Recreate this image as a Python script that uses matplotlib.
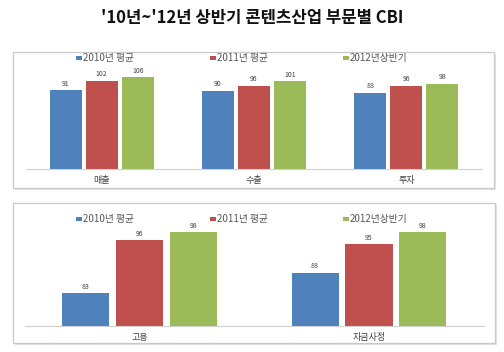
import matplotlib
matplotlib.use("Agg")
import matplotlib.pyplot as plt
from matplotlib.patches import Rectangle
import numpy as np

plt.rcParams['font.family'] = ['Noto Sans CJK KR', 'DejaVu Sans']

title = "'10년~'12년 상반기 콘텐츠산업 부문별 CBI"
series = ["2010년 평균", "2011년 평균", "2012년상반기"]
colors = ["#4F81BD", "#C0504D", "#9BBB59"]

top_cats = ["매출", "수출", "투자"]
top_vals = [[91, 90, 88], [102, 96, 96], [106, 101, 98]]

bot_cats = ["고용", "자금사정"]
bot_vals = [[83, 88], [96, 95], [98, 98]]

W, H = 504, 352
fig = plt.figure(figsize=(W / 100, H / 100), dpi=100)

def px_axes(x0, y0, x1, y1):
    ax = fig.add_axes([x0 / W, 1 - y1 / H, (x1 - x0) / W, (y1 - y0) / H])
    ax.set_zorder(2)
    return ax

def frame(x0, y0, x1, y1):
    fig.patches.append(Rectangle(((x0 + 1.5) / W, 1 - (y1 + 1.5) / H), (x1 - x0) / W, (y1 - y0) / H,
                                 transform=fig.transFigure, facecolor="#e4e4e4", edgecolor="none", zorder=0))
    fig.patches.append(Rectangle((x0 / W, 1 - y1 / H), (x1 - x0) / W, (y1 - y0) / H,
                                 transform=fig.transFigure, facecolor="white", edgecolor="#c8c8c8",
                                 linewidth=0.9, zorder=0.5))

frame(13, 52, 494, 188)
frame(13, 203, 495, 343)

fig.text(252 / W, 1 - 18 / H, title, ha="center", va="center", fontsize=12,
         fontweight="bold", color="#111111", zorder=3)

def draw(ax, cats, vals, ylim, width, step):
    x = np.arange(len(cats))
    for i, (v, c) in enumerate(zip(vals, colors)):
        pos = x + (i - 1) * step
        ax.bar(pos, v, width=width, color=c, bottom=0, zorder=2)
        for p, val in zip(pos, v):
            ax.text(p, val + (ylim[1] - ylim[0]) * 0.025, str(val), ha="center", va="bottom",
                    fontsize=5, color="#404040")
    ax.set_xlim(-0.5, len(cats) - 0.5)
    ax.set_ylim(*ylim)
    ax.set_xticks(x)
    ax.set_xticklabels(cats, fontsize=6.5, color="#404040")
    ax.tick_params(axis="x", length=0, pad=5)
    ax.set_yticks([])
    for s in ["top", "left", "right"]:
        ax.spines[s].set_visible(False)
    ax.spines["bottom"].set_color("#d0d0d0")
    ax.spines["bottom"].set_linewidth(0.8)
    ax.patch.set_alpha(0)

def legend(y):
    xs = [79, 213, 346]
    for xm, lab, c in zip(xs, series, colors):
        fig.patches.append(Rectangle(((xm - 3) / W, 1 - (y + 2) / H), 6 / W, 4 / H,
                                     transform=fig.transFigure, facecolor=c, edgecolor="none", zorder=3))
        fig.text((xm + 4) / W, 1 - y / H, lab, ha="left", va="center", fontsize=7,
                 color="#555555", zorder=3)

ax1 = px_axes(25.5, 65, 482.5, 169)
draw(ax1, top_cats, top_vals, (0, 120), 0.21, 0.237)
legend(58)

ax2 = px_axes(24.75, 224, 483.75, 326)
draw(ax2, bot_cats, bot_vals, (75, 100), 0.205, 0.235)
legend(219)

fig.savefig("out.png", dpi=100)
